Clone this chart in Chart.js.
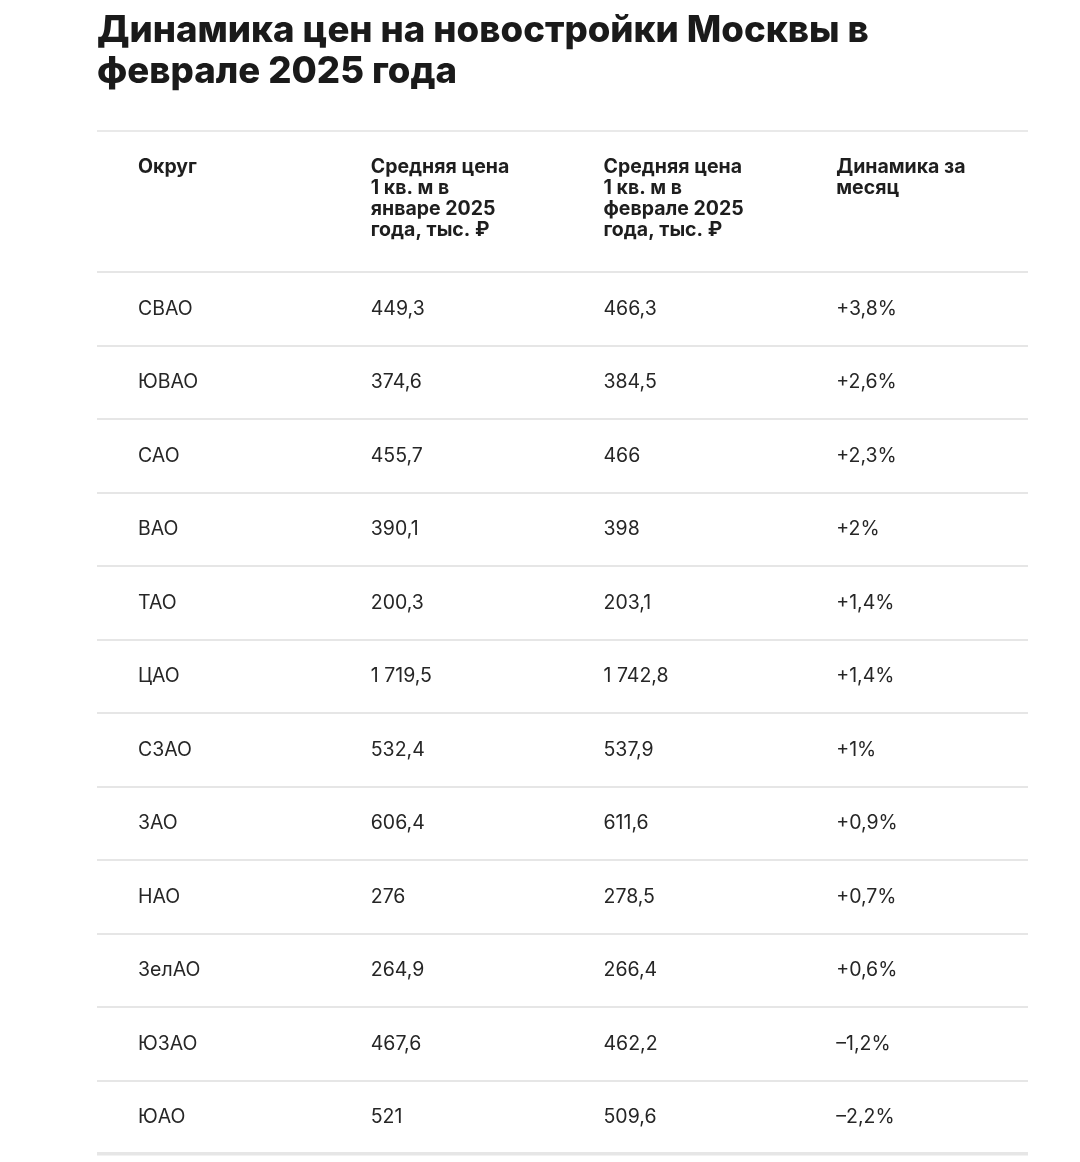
<!DOCTYPE html>
<html>
<head>
<meta charset="utf-8">
<script src="https://cdn.jsdelivr.net/npm/chart.js@4.4.1/dist/chart.umd.min.js"></script>
<style>
html,body{margin:0;padding:0;background:#ffffff;}
#wrap{width:1080px;height:1162px;position:relative;}
</style>
</head>
<body>
<div id="wrap"><canvas id="c"></canvas></div>
<script>
const titleLines = ['Динамика цен на новостройки Москвы в', 'феврале 2025 года'];
const columnHeaders = [
  ['Округ'],
  ['Средняя цена', '1 кв. м в', 'январе 2025', 'года, тыс. ₽'],
  ['Средняя цена', '1 кв. м в', 'феврале 2025', 'года, тыс. ₽'],
  ['Динамика за', 'месяц']
];
const districts = ['СВАО', 'ЮВАО', 'САО', 'ВАО', 'ТАО', 'ЦАО', 'СЗАО', 'ЗАО', 'НАО', 'ЗелАО', 'ЮЗАО', 'ЮАО'];
const priceJan = [449.3, 374.6, 455.7, 390.1, 200.3, 1719.5, 532.4, 606.4, 276, 264.9, 467.6, 521];
const priceFeb = [466.3, 384.5, 466, 398, 203.1, 1742.8, 537.9, 611.6, 278.5, 266.4, 462.2, 509.6];
const changePct = [3.8, 2.6, 2.3, 2, 1.4, 1.4, 1, 0.9, 0.7, 0.6, -1.2, -2.2];

function fmtNum(v) {
  const s = String(v);
  let [i, d] = s.split('.');
  i = i.replace(/\B(?=(\d{3})+(?!\d))/g, '\u00A0');
  return d ? i + ',' + d : i;
}
function fmtPct(v) {
  const sign = v > 0 ? '+' : v < 0 ? '\u2013' : '';
  return sign + fmtNum(Math.abs(v)) + '%';
}

const columnTexts = [
  districts.slice(),
  priceJan.map(fmtNum),
  priceFeb.map(fmtNum),
  changePct.map(fmtPct)
];

const FONT = 'Inter, "Noto Sans", sans-serif';
const CELL_PAD = 41;
const HEADER_BAND = 141;

const tablePlugin = {
  id: 'tableText',
  afterDatasetsDraw(chart) {
    const ctx = chart.ctx;
    const ca = chart.chartArea;
    const xs = chart.scales.x;
    ctx.save();
    const topRule = ca.top - HEADER_BAND;
    ctx.strokeStyle = '#e9e9e9';
    ctx.lineWidth = 2;
    ctx.beginPath();
    ctx.moveTo(ca.left, topRule);
    ctx.lineTo(ca.right, topRule);
    ctx.stroke();
    ctx.fillStyle = '#1e1e1e';
    ctx.font = '700 19.5px ' + FONT;
    ctx.textAlign = 'left';
    ctx.textBaseline = 'alphabetic';
    columnHeaders.forEach((lines, c) => {
      const x = xs.getPixelForValue(c) + CELL_PAD;
      lines.forEach((ln, k) => {
        ctx.fillText(ln, x, topRule + 42 + k * 21);
      });
    });
    ctx.font = '400 19.5px ' + FONT;
    ctx.fillStyle = '#262626';
    ctx.textBaseline = 'middle';
    chart.data.datasets.forEach((ds, di) => {
      const meta = chart.getDatasetMeta(di);
      meta.data.forEach((el, i) => {
        ctx.fillText(columnTexts[di][i], el.x + CELL_PAD, el.y);
      });
    });
    ctx.restore();
  }
};

const datasets = columnTexts.map((col, c) => ({
  label: columnHeaders[c].join(' '),
  data: districts.map(d => ({ x: c, y: d })),
  showLine: false,
  pointRadius: 0,
  pointHoverRadius: 0
}));

new Chart(document.getElementById('c'), {
  type: 'line',
  data: { labels: districts, datasets },
  options: {
    responsive: true,
    maintainAspectRatio: false,
    animation: false,
    events: [],
    layout: { padding: { left: 97, right: 52, top: 0, bottom: 8 } },
    plugins: {
      legend: { display: false },
      tooltip: { enabled: false },
      title: {
        display: true,
        text: titleLines,
        align: 'start',
        color: '#1a1a1a',
        font: { family: FONT, size: 36.6, weight: '800', lineHeight: 1.13 },
        padding: { top: 10, bottom: 179.3 }
      }
    },
    scales: {
      x: { type: 'linear', min: 0, max: 4, display: false },
      y: {
        type: 'category',
        labels: districts,
        offset: true,
        position: 'left',
        ticks: { display: false },
        border: { display: false },
        grid: {
          offset: true,
          drawTicks: false,
          color: '#e6e6e6',
          lineWidth: ctx => ctx.type === 'scale' ? 3.5 : 2
        }
      }
    }
  },
  plugins: [tablePlugin]
});
</script>
</body>
</html>
